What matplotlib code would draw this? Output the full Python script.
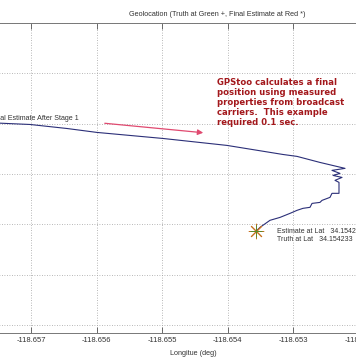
import numpy as np
import matplotlib.pyplot as plt

# path of the solution (deg)
lon = [-118.657625, -118.657473, -118.657015, -118.656451, -118.655994, -118.654988,
       -118.654012, -118.653159, -118.652945, -118.652595, -118.652213, -118.652412,
       -118.652290, -118.652396, -118.652259, -118.652366, -118.652305, -118.652305,
       -118.652412, -118.652442, -118.652564, -118.652595, -118.652716, -118.652747,
       -118.652854, -118.652945, -118.653052, -118.653204, -118.653357, -118.653509,
       -118.653570]
lat = [34.155312, 34.155305, 34.155292, 34.155252, 34.155213, 34.155153,
       34.155084, 34.154994, 34.154975, 34.154915, 34.154856, 34.154836,
       34.154806, 34.154786, 34.154766, 34.154737, 34.154717, 34.154608,
       34.154608, 34.154568, 34.154538, 34.154518, 34.154508, 34.154469,
       34.154459, 34.154439, 34.154409, 34.154369, 34.154340, 34.154270,
       34.154231]

truth_lon, truth_lat = -118.653570, 34.154233

xticks = [-118.657, -118.656, -118.655, -118.654, -118.653, -118.652]
yticks = [34.1533, 34.1538, 34.1543, 34.1548, 34.1553, 34.1558, 34.1563]

W, H = 356, 364
fig = plt.figure(figsize=(W / 100, H / 100), dpi=100)
plt.rcParams['font.family'] = ['Liberation Sans', 'DejaVu Sans']

# axes runs past the picture on both sides (cropped screenshot)
left_px, right_px, top_px, bot_px = -30, 416, 23, 333
ax = fig.add_axes([left_px / W, 1 - bot_px / H, (right_px - left_px) / W, (bot_px - top_px) / H])

ax.plot(lon, lat, color='#2b2f78', lw=0.8)
ax.plot(truth_lon, truth_lat, marker=(8, 2, 0), color='#c8701e', ms=11, mew=0.7, ls='none')
ax.plot(truth_lon, truth_lat, marker='+', color='#5a8a2a', ms=8, mew=0.7, ls='none')

ax.set_xlim(-118.657 - 61 / 65600, -118.657 + 385 / 65600)
ax.set_ylim(34.1533 - 8 / 50.4 * 0.0005, 34.1563)
ax.set_xticks(xticks)
ax.set_xticklabels(['%.3f' % v for v in xticks])
ax.set_yticks(yticks)
ax.set_yticklabels([])
ax.tick_params(direction='in', length=4, width=0.6, color='#555555', labelsize=5.5,
               labelcolor='#333333', pad=3, top=True, right=True)
ax.grid(True, ls=(0, (1, 2)), color='#a0a0a0', lw=0.6)
for s in ax.spines.values():
    s.set_color('#777777')
    s.set_linewidth(0.7)
ax.set_xlabel('Longitue (deg)', fontsize=5.2, color='#333333', labelpad=4)

ax.text(-118.656268, 34.155352, 'Initial Estimate After Stage 1', fontsize=5.1,
        color='#333333', ha='right', va='center')
ax.text(-118.653250, 34.154231, 'Estimate at Lat   34.154236   Lon  -118.653537',
        fontsize=5, color='#333333', ha='left', va='center')
ax.text(-118.653250, 34.154151, 'Truth at Lat   34.154233   Lon  -118.653570',
        fontsize=5, color='#333333', ha='left', va='center')

fig.text(217 / W, 1 - 14 / H, 'Geolocation (Truth at Green +, Final Estimate at Red *)',
         fontsize=5.25, color='#333333', ha='center', va='center')

fig.text(217 / W, 1 - 78 / H,
         'GPStoo calculates a final\nposition using measured\nproperties from broadcast\ncarriers.  This example\nrequired 0.1 sec.',
         family='DejaVu Sans', fontweight='bold', fontsize=6.1, color='#a3181c',
         ha='left', va='top', linespacing=1.15)

ax.annotate('', xy=(206 / W, 1 - 133 / H), xytext=(102 / W, 1 - 123 / H),
            xycoords='figure fraction', textcoords='figure fraction',
            arrowprops=dict(arrowstyle='-|>', color='#e04a70', lw=0.9, mutation_scale=8))

fig.savefig('out.png', dpi=100)
